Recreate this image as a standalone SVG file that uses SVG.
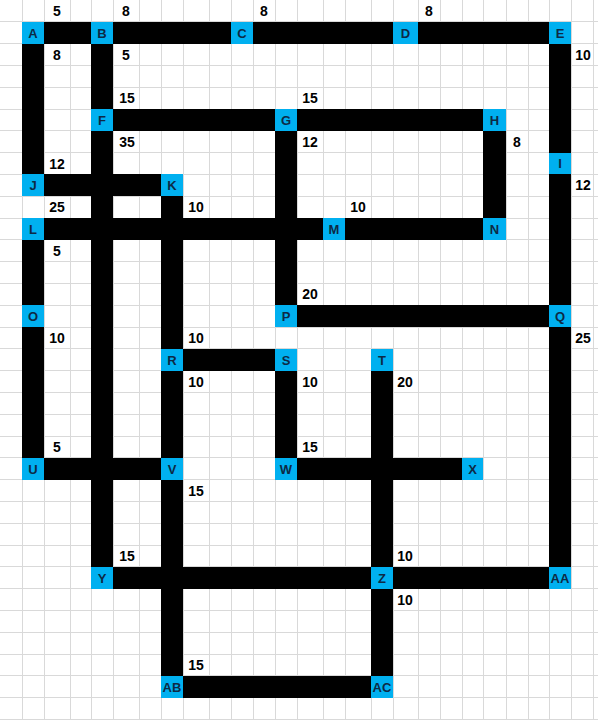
<svg xmlns="http://www.w3.org/2000/svg" width="598" height="720" viewBox="0 0 598 720">
<style>
.grid{stroke:#d9d9d9;stroke-width:1;fill:none;shape-rendering:crispEdges}
.edge{fill:#000;shape-rendering:crispEdges}
.node rect{fill:#00b0f0;shape-rendering:crispEdges}
.node text{font-family:"Liberation Sans",Arial,sans-serif;font-weight:bold;font-size:13px;fill:#0d2a45;text-anchor:middle}
.w{font-family:"Liberation Sans",Arial,sans-serif;font-weight:bold;font-size:14px;fill:#000;text-anchor:middle}
</style>
<rect x="0" y="0" width="598" height="720" fill="#fff"/>
<g id="grid">
<path class="grid" d="M22.5 0V720M44.5 0V720M70.5 0V720M91.5 0V720M113.5 0V720M139.5 0V720M161.5 0V720M183.5 0V720M209.5 0V720M231.5 0V720M253.5 0V720M275.5 0V720M297.5 0V720M323.5 0V720M345.5 0V720M371.5 0V720M393.5 0V720M418.5 0V720M440.5 0V720M462.5 0V720M483.5 0V720M506.5 0V720M528.5 0V720M549.5 0V720M571.5 0V720M593.5 0V720"/>
<path class="grid" d="M0 21.8H598M0 43.6H598M0 65.4H598M0 87.2H598M0 109H598M0 130.8H598M0 152.6H598M0 174.4H598M0 196.2H598M0 218H598M0 239.8H598M0 261.6H598M0 283.4H598M0 305.2H598M0 327H598M0 348.8H598M0 370.6H598M0 392.4H598M0 414.2H598M0 436H598M0 457.8H598M0 479.6H598M0 501.4H598M0 523.2H598M0 545H598M0 566.8H598M0 588.6H598M0 610.4H598M0 632.2H598M0 654H598M0 675.8H598M0 697.6H598M0 719.4H598"/>
</g>
<g id="connectors">
<rect class="edge" x="44" y="21.8" width="47" height="21.8"/>
<rect class="edge" x="113" y="21.8" width="118" height="21.8"/>
<rect class="edge" x="253" y="21.8" width="140" height="21.8"/>
<rect class="edge" x="418" y="21.8" width="131" height="21.8"/>
<rect class="edge" x="113" y="109" width="162" height="21.8"/>
<rect class="edge" x="297" y="109" width="186" height="21.8"/>
<rect class="edge" x="44" y="174.4" width="117" height="21.8"/>
<rect class="edge" x="44" y="218" width="279" height="21.8"/>
<rect class="edge" x="345" y="218" width="138" height="21.8"/>
<rect class="edge" x="297" y="305.2" width="252" height="21.8"/>
<rect class="edge" x="183" y="348.8" width="92" height="21.8"/>
<rect class="edge" x="44" y="457.8" width="117" height="21.8"/>
<rect class="edge" x="297" y="457.8" width="165" height="21.8"/>
<rect class="edge" x="113" y="566.8" width="258" height="21.8"/>
<rect class="edge" x="393" y="566.8" width="156" height="21.8"/>
<rect class="edge" x="183" y="675.8" width="188" height="21.8"/>
<rect class="edge" x="22" y="43.6" width="22" height="130.8"/>
<rect class="edge" x="22" y="239.8" width="22" height="65.4"/>
<rect class="edge" x="22" y="327" width="22" height="130.8"/>
<rect class="edge" x="91" y="43.6" width="22" height="65.4"/>
<rect class="edge" x="91" y="130.8" width="22" height="436"/>
<rect class="edge" x="549" y="43.6" width="22" height="109"/>
<rect class="edge" x="549" y="174.4" width="22" height="130.8"/>
<rect class="edge" x="549" y="327" width="22" height="239.8"/>
<rect class="edge" x="275" y="130.8" width="22" height="174.4"/>
<rect class="edge" x="483" y="130.8" width="23" height="87.2"/>
<rect class="edge" x="161" y="196.2" width="22" height="152.6"/>
<rect class="edge" x="161" y="370.6" width="22" height="87.2"/>
<rect class="edge" x="161" y="479.6" width="22" height="196.2"/>
<rect class="edge" x="275" y="370.6" width="22" height="87.2"/>
<rect class="edge" x="371" y="370.6" width="22" height="196.2"/>
<rect class="edge" x="371" y="588.6" width="22" height="87.2"/>
</g>
<g id="weights">
<text class="w" x="57" y="16">5</text>
<text class="w" x="126" y="16">8</text>
<text class="w" x="264" y="16">8</text>
<text class="w" x="429" y="16">8</text>
<text class="w" x="57" y="59.6">8</text>
<text class="w" x="126" y="59.6">5</text>
<text class="w" x="583" y="59.6">10</text>
<text class="w" x="127" y="103.2">15</text>
<text class="w" x="310" y="103.2">15</text>
<text class="w" x="127" y="146.8">35</text>
<text class="w" x="310" y="146.8">12</text>
<text class="w" x="517" y="146.8">8</text>
<text class="w" x="57" y="168.6">12</text>
<text class="w" x="583" y="190.4">12</text>
<text class="w" x="57" y="212.2">25</text>
<text class="w" x="196" y="212.2">10</text>
<text class="w" x="358" y="212.2">10</text>
<text class="w" x="57" y="255.8">5</text>
<text class="w" x="310" y="299.4">20</text>
<text class="w" x="57" y="343">10</text>
<text class="w" x="196" y="343">10</text>
<text class="w" x="583" y="343">25</text>
<text class="w" x="196" y="386.6">10</text>
<text class="w" x="310" y="386.6">10</text>
<text class="w" x="405" y="386.6">20</text>
<text class="w" x="57" y="452">5</text>
<text class="w" x="310" y="452">15</text>
<text class="w" x="196" y="495.6">15</text>
<text class="w" x="127" y="561">15</text>
<text class="w" x="405" y="561">10</text>
<text class="w" x="405" y="604.6">10</text>
<text class="w" x="196" y="670">15</text>
</g>
<g id="node-A" class="node"><rect x="22" y="21.8" width="22" height="21.8"/><text x="33" y="37.6">A</text></g>
<g id="node-B" class="node"><rect x="91" y="21.8" width="22" height="21.8"/><text x="102" y="37.6">B</text></g>
<g id="node-C" class="node"><rect x="231" y="21.8" width="22" height="21.8"/><text x="242" y="37.6">C</text></g>
<g id="node-D" class="node"><rect x="393" y="21.8" width="25" height="21.8"/><text x="405.5" y="37.6">D</text></g>
<g id="node-E" class="node"><rect x="549" y="21.8" width="22" height="21.8"/><text x="560" y="37.6">E</text></g>
<g id="node-F" class="node"><rect x="91" y="109" width="22" height="21.8"/><text x="102" y="124.8">F</text></g>
<g id="node-G" class="node"><rect x="275" y="109" width="22" height="21.8"/><text x="286" y="124.8">G</text></g>
<g id="node-H" class="node"><rect x="483" y="109" width="23" height="21.8"/><text x="494.5" y="124.8">H</text></g>
<g id="node-I" class="node"><rect x="549" y="152.6" width="22" height="21.8"/><text x="560" y="168.4">I</text></g>
<g id="node-J" class="node"><rect x="22" y="174.4" width="22" height="21.8"/><text x="33" y="190.2">J</text></g>
<g id="node-K" class="node"><rect x="161" y="174.4" width="22" height="21.8"/><text x="172" y="190.2">K</text></g>
<g id="node-L" class="node"><rect x="22" y="218" width="22" height="21.8"/><text x="33" y="233.8">L</text></g>
<g id="node-M" class="node"><rect x="323" y="218" width="22" height="21.8"/><text x="334" y="233.8">M</text></g>
<g id="node-N" class="node"><rect x="483" y="218" width="23" height="21.8"/><text x="494.5" y="233.8">N</text></g>
<g id="node-O" class="node"><rect x="22" y="305.2" width="22" height="21.8"/><text x="33" y="321">O</text></g>
<g id="node-P" class="node"><rect x="275" y="305.2" width="22" height="21.8"/><text x="286" y="321">P</text></g>
<g id="node-Q" class="node"><rect x="549" y="305.2" width="22" height="21.8"/><text x="560" y="321">Q</text></g>
<g id="node-R" class="node"><rect x="161" y="348.8" width="22" height="21.8"/><text x="172" y="364.6">R</text></g>
<g id="node-S" class="node"><rect x="275" y="348.8" width="22" height="21.8"/><text x="286" y="364.6">S</text></g>
<g id="node-T" class="node"><rect x="371" y="348.8" width="22" height="21.8"/><text x="382" y="364.6">T</text></g>
<g id="node-U" class="node"><rect x="22" y="457.8" width="22" height="21.8"/><text x="33" y="473.6">U</text></g>
<g id="node-V" class="node"><rect x="161" y="457.8" width="22" height="21.8"/><text x="172" y="473.6">V</text></g>
<g id="node-W" class="node"><rect x="275" y="457.8" width="22" height="21.8"/><text x="286" y="473.6">W</text></g>
<g id="node-X" class="node"><rect x="462" y="457.8" width="21" height="21.8"/><text x="472.5" y="473.6">X</text></g>
<g id="node-Y" class="node"><rect x="91" y="566.8" width="22" height="21.8"/><text x="102" y="582.6">Y</text></g>
<g id="node-Z" class="node"><rect x="371" y="566.8" width="22" height="21.8"/><text x="382" y="582.6">Z</text></g>
<g id="node-AA" class="node"><rect x="549" y="566.8" width="22" height="21.8"/><text x="560" y="582.6">AA</text></g>
<g id="node-AB" class="node"><rect x="161" y="675.8" width="22" height="21.8"/><text x="172" y="691.6">AB</text></g>
<g id="node-AC" class="node"><rect x="371" y="675.8" width="22" height="21.8"/><text x="382" y="691.6">AC</text></g>
</svg>
